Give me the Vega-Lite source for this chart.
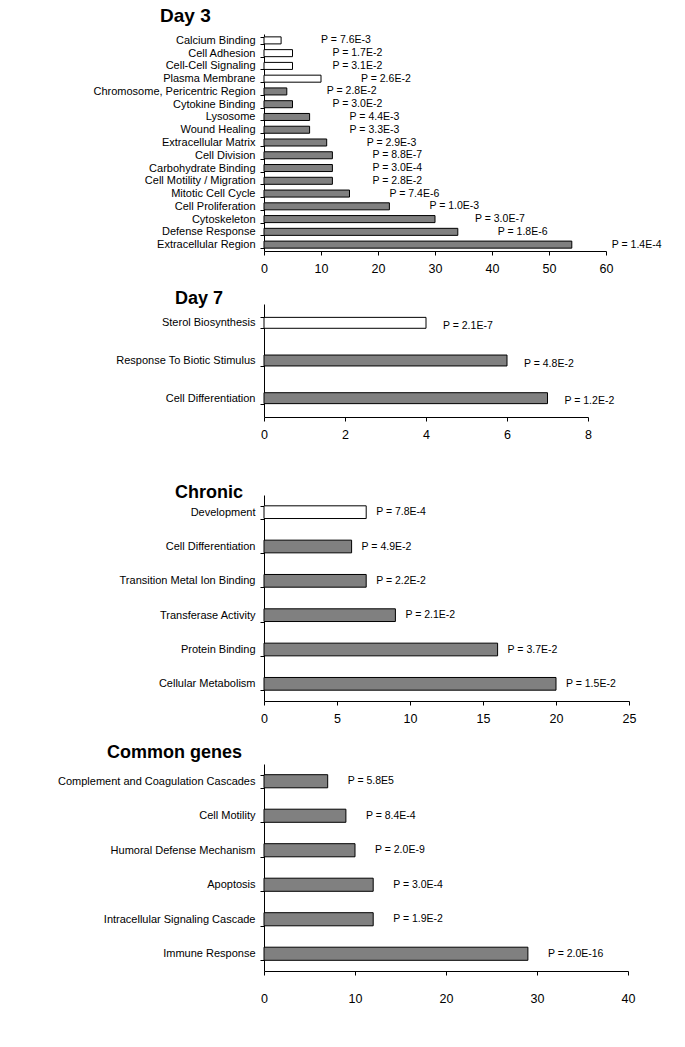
{
  "$schema": "https://vega.github.io/schema/vega-lite/v6.json",
  "padding": {"left": 57, "top": 6, "right": 5, "bottom": 5},
  "spacing": 0,
  "config": {
    "view": {"stroke": null},
    "font": "Liberation Sans",
    "axis": {"domainColor": "#000", "tickColor": "#000", "labelColor": "#000", "grid": false, "title": null, "labelFont": "Liberation Sans", "tickSize": 4},
    "axisY": {"labelFontSize": 11, "labelPadding": 5, "labelLimit": 320, "tickBand": "extent"},
    "axisX": {"labelFontSize": 12.5, "labelFlush": false, "labelPadding": 7},
    "title": {"font": "Liberation Sans", "fontWeight": "bold", "fontSize": 18, "color": "#000", "anchor": "start", "frame": "group", "baseline": "alphabetic"},
    "text": {"font": "Liberation Sans", "fontSize": 10.5, "color": "#000"}
  },
  "datasets": {
    "day3": [
      {"term": "Calcium Binding", "count": 3, "direction": "down", "label": "P = 7.6E-3"},
      {"term": "Cell Adhesion", "count": 5, "direction": "down", "label": "P = 1.7E-2"},
      {"term": "Cell-Cell Signaling", "count": 5, "direction": "down", "label": "P = 3.1E-2"},
      {"term": "Plasma Membrane", "count": 10, "direction": "down", "label": "P = 2.6E-2"},
      {"term": "Chromosome, Pericentric Region", "count": 4, "direction": "up", "label": "P = 2.8E-2"},
      {"term": "Cytokine Binding", "count": 5, "direction": "up", "label": "P = 3.0E-2"},
      {"term": "Lysosome", "count": 8, "direction": "up", "label": "P = 4.4E-3"},
      {"term": "Wound Healing", "count": 8, "direction": "up", "label": "P = 3.3E-3"},
      {"term": "Extracellular Matrix", "count": 11, "direction": "up", "label": "P = 2.9E-3"},
      {"term": "Cell Division", "count": 12, "direction": "up", "label": "P = 8.8E-7"},
      {"term": "Carbohydrate Binding", "count": 12, "direction": "up", "label": "P = 3.0E-4"},
      {"term": "Cell Motility / Migration", "count": 12, "direction": "up", "label": "P = 2.8E-2"},
      {"term": "Mitotic Cell Cycle", "count": 15, "direction": "up", "label": "P = 7.4E-6"},
      {"term": "Cell Proliferation", "count": 22, "direction": "up", "label": "P = 1.0E-3"},
      {"term": "Cytoskeleton", "count": 30, "direction": "up", "label": "P = 3.0E-7"},
      {"term": "Defense Response", "count": 34, "direction": "up", "label": "P = 1.8E-6"},
      {"term": "Extracellular Region", "count": 54, "direction": "up", "label": "P = 1.4E-4"}
    ],
    "day7": [
      {"term": "Sterol Biosynthesis", "count": 4, "direction": "down", "label": "P = 2.1E-7"},
      {"term": "Response To Biotic Stimulus", "count": 6, "direction": "up", "label": "P = 4.8E-2"},
      {"term": "Cell Differentiation", "count": 7, "direction": "up", "label": "P = 1.2E-2"}
    ],
    "chronic": [
      {"term": "Development", "count": 7, "direction": "down", "label": "P = 7.8E-4"},
      {"term": "Cell Differentiation", "count": 6, "direction": "up", "label": "P = 4.9E-2"},
      {"term": "Transition Metal Ion Binding", "count": 7, "direction": "up", "label": "P = 2.2E-2"},
      {"term": "Transferase Activity", "count": 9, "direction": "up", "label": "P = 2.1E-2"},
      {"term": "Protein Binding", "count": 16, "direction": "up", "label": "P = 3.7E-2"},
      {"term": "Cellular Metabolism", "count": 20, "direction": "up", "label": "P = 1.5E-2"}
    ],
    "common": [
      {"term": "Complement and Coagulation Cascades", "count": 7, "direction": "up", "label": "P = 5.8E5"},
      {"term": "Cell Motility", "count": 9, "direction": "up", "label": "P = 8.4E-4"},
      {"term": "Humoral Defense Mechanism", "count": 10, "direction": "up", "label": "P = 2.0E-9"},
      {"term": "Apoptosis", "count": 12, "direction": "up", "label": "P = 3.0E-4"},
      {"term": "Intracellular Signaling Cascade", "count": 12, "direction": "up", "label": "P = 1.9E-2"},
      {"term": "Immune Response", "count": 29, "direction": "up", "label": "P = 2.0E-16"}
    ]
  },
  "vconcat": [
    {
      "title": {"text": "Day 3", "offset": 2.5, "dx": -104, "fontSize": 19},
      "width": 342, "height": 217,
      "data": {"name": "day3"},
      "encoding": {
        "y": {"field": "term", "type": "nominal", "sort": null, "scale": {"paddingInner": 0.45, "paddingOuter": 0.225}, "axis": {"title": null}},
        "x": {"field": "count", "type": "quantitative", "scale": {"domain": [0, 60], "nice": false}, "axis": {"values": [0, 10, 20, 30, 40, 50, 60], "minExtent": 38, "title": null}}
      },
      "layer": [
        {"mark": {"type": "bar", "stroke": "#000", "strokeWidth": 1},
         "encoding": {"fill": {"field": "direction", "type": "nominal", "scale": {"domain": ["down", "up"], "range": ["#ffffff", "#808080"]}, "legend": null}}},
        {"mark": {"type": "text", "align": "left", "baseline": "middle", "dx": 40},
         "encoding": {"text": {"field": "label"}}}
      ]
    },
    {
      "title": {"text": "Day 7", "offset": -9.5, "dx": -89},
      "width": 324, "height": 113,
      "data": {"name": "day7"},
      "encoding": {
        "y": {"field": "term", "type": "nominal", "sort": null, "scale": {"paddingInner": 0.71, "paddingOuter": 0.355}, "axis": {"title": null}},
        "x": {"field": "count", "type": "quantitative", "scale": {"domain": [0, 8], "nice": false}, "axis": {"values": [0, 2, 4, 6, 8], "minExtent": 66, "title": null}}
      },
      "layer": [
        {"mark": {"type": "bar", "stroke": "#000", "strokeWidth": 1},
         "encoding": {"fill": {"field": "direction", "type": "nominal", "scale": {"domain": ["down", "up"], "range": ["#ffffff", "#808080"]}, "legend": null}}},
        {"mark": {"type": "text", "align": "left", "baseline": "middle", "dx": 17, "dy": 3},
         "encoding": {"text": {"field": "label"}}}
      ]
    },
    {
      "title": {"text": "Chronic", "offset": -12.5, "dx": -89},
      "width": 365, "height": 206,
      "data": {"name": "chronic"},
      "encoding": {
        "y": {"field": "term", "type": "nominal", "sort": null, "scale": {"paddingInner": 0.63, "paddingOuter": 0.315}, "axis": {"title": null}},
        "x": {"field": "count", "type": "quantitative", "scale": {"domain": [0, 25], "nice": false}, "axis": {"values": [0, 5, 10, 15, 20, 25], "minExtent": 42, "title": null}}
      },
      "layer": [
        {"mark": {"type": "bar", "stroke": "#000", "strokeWidth": 1},
         "encoding": {"fill": {"field": "direction", "type": "nominal", "scale": {"domain": ["down", "up"], "range": ["#ffffff", "#808080"]}, "legend": null}}},
        {"mark": {"type": "text", "align": "left", "baseline": "middle", "dx": 10},
         "encoding": {"text": {"field": "label"}}}
      ]
    },
    {
      "title": {"text": "Common genes", "offset": -3.5, "dx": -157},
      "width": 364, "height": 207,
      "data": {"name": "common"},
      "encoding": {
        "y": {"field": "term", "type": "nominal", "sort": null, "scale": {"paddingInner": 0.62, "paddingOuter": 0.31}, "axis": {"title": null}},
        "x": {"field": "count", "type": "quantitative", "scale": {"domain": [0, 40], "nice": false}, "axis": {"values": [0, 10, 20, 30, 40], "labelPadding": 17, "title": null}}
      },
      "layer": [
        {"mark": {"type": "bar", "stroke": "#000", "strokeWidth": 1},
         "encoding": {"fill": {"field": "direction", "type": "nominal", "scale": {"domain": ["down", "up"], "range": ["#ffffff", "#808080"]}, "legend": null}}},
        {"mark": {"type": "text", "align": "left", "baseline": "middle", "dx": 20},
         "encoding": {"text": {"field": "label"}}}
      ]
    }
  ]
}
